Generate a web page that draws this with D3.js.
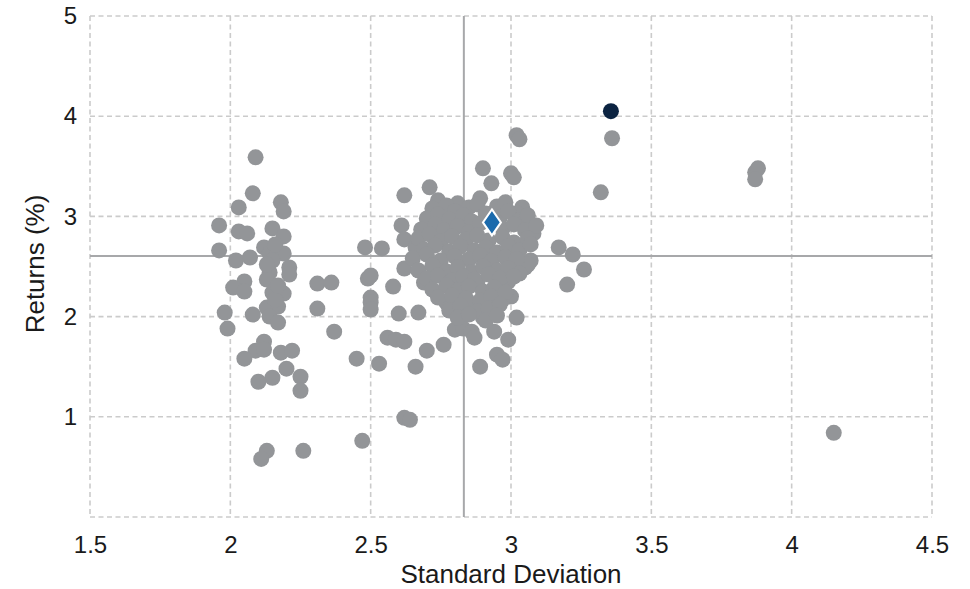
<!DOCTYPE html>
<html>
<head>
<meta charset="utf-8">
<script src="https://cdn.jsdelivr.net/npm/d3@7"></script>
<style>
  html, body { margin: 0; padding: 0; background: #ffffff; }
  svg { display: block; font-family: "Liberation Sans", Arial, sans-serif; }
</style>
</head>
<body>
<svg id="chart" width="970" height="589"></svg>
<script>
// Peer universe: annualised standard deviation (x) and return % (y)
const peerStdDev = [
  2.09,2.08,2.03,2.18,2.19,1.96,2.03,2.06,2.15,2.19,1.96,2.12,2.14,2.19,2.02,2.07,2.15,2.21,2.21,2.14,
  2.13,2.05,2.01,2.05,2.15,2.19,1.98,2.08,2.13,2.17,2.14,2.17,1.99,2.12,2.09,2.05,2.12,2.18,2.22,2.20,
  2.15,2.10,2.25,2.25,2.13,2.11,2.26,2.16,2.13,2.16,2.17,
  2.31,2.36,2.31,2.37,2.45,2.47,2.48,2.54,2.49,2.50,2.50,2.50,2.50,2.53,2.58,2.56,2.59,2.62,2.60,2.67,
  2.62,2.71,2.61,2.62,2.66,2.70,2.76,2.62,2.64,2.89,2.80,2.83,2.62,2.86,2.90,2.94,2.99,3.02,2.95,2.87,2.97,
  3.02,3.03,3.36,3.32,3.17,3.22,3.26,3.20,3.07,3.05,3.08,3.08,3.04,3.00,3.01,2.90,2.93,2.89,3.04,3.06,
  2.99,3.00,3.87,3.88,3.87,4.15,
  2.74,2.81,2.66,2.69,2.77,2.86,2.97,2.99,2.88,
  2.72,2.77,2.80,2.85,2.88,2.95,2.98,3.02,
  2.70,2.74,2.78,2.83,2.86,2.91,2.96,2.99,3.03,3.06,
  2.68,2.73,2.76,2.81,2.85,2.89,2.97,3.01,3.05,3.09,
  2.67,2.71,2.75,2.79,2.84,2.88,2.92,2.97,3.01,3.06,
  2.69,2.73,2.78,2.82,2.87,2.91,2.95,2.99,3.03,3.07,
  2.65,2.70,2.75,2.80,2.85,2.89,2.93,2.98,3.02,
  2.67,2.72,2.77,2.81,2.86,2.90,2.95,2.99,3.03,
  2.70,2.74,2.79,2.83,2.87,2.92,2.96,3.01,
  2.72,2.77,2.81,2.85,2.90,2.94,
  2.74,2.79,2.84,2.89,2.93,2.98,
  2.78,2.82,2.88,2.92,2.96,
  2.81,2.85,2.91,2.95
];
const peerReturns = [
  3.59,3.23,3.09,3.14,3.05,2.91,2.85,2.83,2.88,2.80,2.66,2.69,2.63,2.63,2.56,2.59,2.56,2.49,2.42,2.44,
  2.37,2.35,2.29,2.25,2.24,2.23,2.04,2.02,2.09,2.10,2.00,1.94,1.88,1.75,1.66,1.58,1.67,1.64,1.66,1.48,
  1.39,1.35,1.40,1.26,0.66,0.58,0.66,2.72,2.52,2.17,2.31,
  2.33,2.34,2.08,1.85,1.58,0.76,2.69,2.68,2.38,2.41,2.19,2.14,2.07,1.53,2.30,1.79,1.77,1.75,2.03,2.04,
  3.21,3.29,2.91,2.77,1.50,1.66,1.72,0.99,0.97,1.50,1.87,1.88,2.48,1.85,1.99,1.85,1.77,1.99,1.62,1.79,1.57,
  3.81,3.77,3.78,3.24,2.69,2.62,2.47,2.32,2.56,2.49,2.89,2.83,3.09,3.43,3.39,3.48,3.33,3.18,3.06,2.52,
  2.37,2.20,3.44,3.48,3.37,0.84,
  3.16,3.13,2.69,2.34,2.14,2.10,2.17,2.35,2.34,
  3.08,3.11,3.05,3.09,3.12,3.10,3.14,3.03,
  2.98,3.02,2.97,3.01,2.95,3.03,2.99,3.05,2.96,3.01,
  2.87,2.92,2.86,2.90,2.84,2.93,2.88,2.92,2.86,2.91,
  2.78,2.82,2.75,2.80,2.77,2.81,2.76,2.79,2.74,2.78,
  2.67,2.71,2.65,2.70,2.66,2.69,2.64,2.70,2.66,2.72,
  2.58,2.62,2.56,2.60,2.57,2.61,2.55,2.59,2.57,
  2.46,2.51,2.45,2.49,2.44,2.50,2.46,2.48,2.43,
  2.38,2.41,2.36,2.40,2.37,2.42,2.38,2.40,
  2.27,2.31,2.26,2.30,2.25,2.29,
  2.19,2.21,2.18,2.16,2.20,2.24,
  2.06,2.11,2.05,2.08,2.12,
  1.99,2.02,1.96,2.01
];

// Highlighted fund and benchmark
const fundPoint = [3.356, 4.05];
const benchmarkPoint = [2.932, 2.94];

// Peer-group averages drawn as cross-hair lines
const avgStdDev = 2.832;
const avgReturn = 2.605;

// Axis ticks
const xTicks = [1.5, 2, 2.5, 3, 3.5, 4, 4.5];
const yGrid = [0, 1, 2, 3, 4, 5];
const yTickLabels = [1, 2, 3, 4, 5];

const svg = d3.select("#chart");
const plot = { left: 90, right: 932, top: 16, bottom: 517 };
const tickFontSize = 24;
const titleFontSize = 26;
const textColor = "#1a1a1a";

const x = d3.scaleLinear().domain([1.5, 4.5]).range([plot.left, plot.right]);
const y = d3.scaleLinear().domain([0, 5]).range([plot.bottom, plot.top]);

const gridColor = "#cbcbcb";

// Dashed grid
const grid = svg.append("g");
grid.selectAll("line.v").data(xTicks).join("line")
  .attr("x1", d => x(d)).attr("x2", d => x(d))
  .attr("y1", plot.top).attr("y2", plot.bottom)
  .attr("stroke", gridColor).attr("stroke-width", 1.6).attr("stroke-dasharray", "5,3.5");
grid.selectAll("line.h").data(yGrid).join("line")
  .attr("x1", plot.left).attr("x2", plot.right)
  .attr("y1", d => y(d)).attr("y2", d => y(d))
  .attr("stroke", gridColor).attr("stroke-width", 1.6).attr("stroke-dasharray", "5,3.5");

// Average lines
svg.append("line")
  .attr("x1", x(avgStdDev)).attr("x2", x(avgStdDev))
  .attr("y1", plot.top).attr("y2", plot.bottom)
  .attr("stroke", "#a7a8aa").attr("stroke-width", 2);
svg.append("line")
  .attr("x1", plot.left).attr("x2", plot.right)
  .attr("y1", y(avgReturn)).attr("y2", y(avgReturn))
  .attr("stroke", "#a7a8aa").attr("stroke-width", 2);

// Peer points
const peers = peerStdDev.map((s, i) => [s, peerReturns[i]]);
svg.append("g").selectAll("circle").data(peers).join("circle")
  .attr("cx", d => x(d[0])).attr("cy", d => y(d[1]))
  .attr("r", 8).attr("fill", "#939598");

// Benchmark diamond
const bx = x(benchmarkPoint[0]), by = y(benchmarkPoint[1]);
svg.append("path")
  .attr("d", `M${bx},${by - 13}L${bx + 9},${by}L${bx},${by + 13}L${bx - 9},${by}Z`)
  .attr("fill", "#1b6aac").attr("stroke", "#ffffff").attr("stroke-width", 2);

// Fund
svg.append("circle")
  .attr("cx", x(fundPoint[0])).attr("cy", y(fundPoint[1]))
  .attr("r", 8).attr("fill", "#0b2341");

// Axes
const xAxis = svg.append("g")
  .attr("transform", `translate(0,${plot.bottom})`)
  .call(d3.axisBottom(x).tickValues(xTicks).tickFormat(d3.format("")).tickSize(0).tickPadding(19));
xAxis.select(".domain").remove();
xAxis.selectAll("text").attr("font-size", tickFontSize).attr("fill", textColor)
  .attr("font-family", "Liberation Sans, Arial, sans-serif");

const yAxis = svg.append("g")
  .attr("transform", `translate(${plot.left},0)`)
  .call(d3.axisLeft(y).tickValues(yTickLabels).tickFormat(d3.format("d")).tickSize(0).tickPadding(13));
yAxis.select(".domain").remove();
yAxis.selectAll("text").attr("font-size", tickFontSize).attr("fill", textColor)
  .attr("font-family", "Liberation Sans, Arial, sans-serif");

// Axis titles
svg.append("text")
  .attr("x", (plot.left + plot.right) / 2).attr("y", 583)
  .attr("text-anchor", "middle").attr("font-size", titleFontSize).attr("fill", textColor)
  .text("Standard Deviation");
svg.append("text")
  .attr("transform", `translate(44,264) rotate(-90)`)
  .attr("text-anchor", "middle").attr("font-size", titleFontSize).attr("fill", textColor)
  .text("Returns (%)");
</script>
</body>
</html>
